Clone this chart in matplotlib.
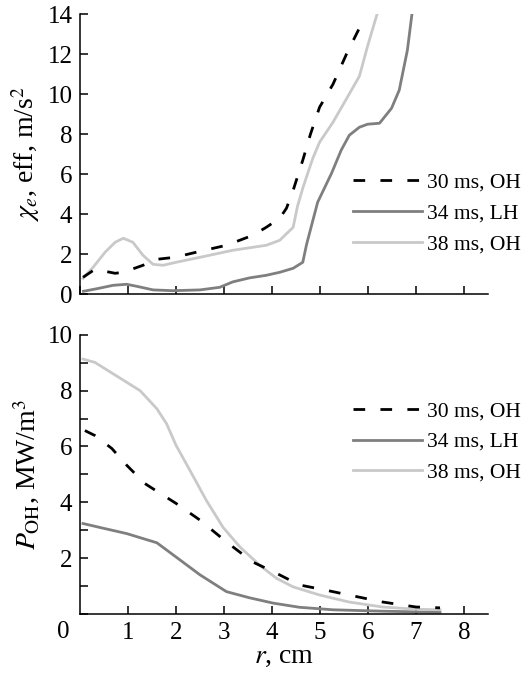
import matplotlib
matplotlib.use("Agg")
import matplotlib.pyplot as plt
from matplotlib.ticker import MultipleLocator

# === Profiles: chi_e,eff (m/s^2) vs r (cm) ===
r_chi_30 = [0.06, 0.31, 0.73, 0.9, 1.31, 1.6, 1.98, 2.5, 3.05, 3.6, 3.88, 4.16, 4.3,
            4.44, 4.64, 4.8, 4.99, 5.27, 5.55, 5.86, 5.95]
chi_30 = [0.85, 1.25, 1.05, 1.1, 1.45, 1.75, 1.85, 2.15, 2.45, 2.95, 3.35, 3.8, 4.3,
          5.2, 6.7, 8.0, 9.35, 10.5, 12.0, 13.5, 13.9]

r_chi_34 = [0.07, 0.35, 0.69, 0.97, 1.18, 1.52, 1.94, 2.5, 2.91, 3.18, 3.53, 3.88, 4.16,
            4.44, 4.64, 4.72, 4.95, 5.24, 5.44, 5.61, 5.82, 5.99, 6.24, 6.49, 6.65, 6.82, 6.92]
chi_34 = [0.15, 0.28, 0.45, 0.5, 0.4, 0.22, 0.18, 0.22, 0.35, 0.62, 0.82, 0.95, 1.1,
          1.3, 1.6, 2.5, 4.6, 6.05, 7.2, 7.95, 8.35, 8.5, 8.55, 9.3, 10.2, 12.2, 14.1]

r_chi_38 = [0.06, 0.27, 0.52, 0.73, 0.9, 1.1, 1.31, 1.52, 1.73, 2.0, 2.5, 3.18, 3.88,
            4.16, 4.44, 4.53, 4.64, 4.75, 4.85, 4.99, 5.27, 5.57, 5.82, 5.99, 6.2]
chi_38 = [0.8, 1.35, 2.1, 2.6, 2.8, 2.6, 1.95, 1.5, 1.45, 1.6, 1.85, 2.2, 2.45,
          2.7, 3.35, 4.4, 5.3, 6.1, 6.8, 7.6, 8.6, 9.85, 10.9, 12.4, 14.1]

# === Profiles: P_OH (MW/m^3) vs r (cm) ===
r_p_30 = [0.1, 0.31, 0.66, 0.97, 1.35, 2.0, 2.5, 3.05, 3.6, 4.09, 4.57, 5.13, 5.6, 6.3, 7.0, 7.5]
p_30 = [6.57, 6.39, 5.93, 5.33, 4.67, 3.96, 3.36, 2.58, 1.86, 1.46, 1.04, 0.85, 0.68, 0.43, 0.25, 0.22]

r_p_34 = [0.06, 0.41, 0.97, 1.6, 2.0, 2.5, 3.05, 3.53, 4.02, 4.57, 5.27, 6.3, 7.5]
p_34 = [3.24, 3.1, 2.88, 2.55, 2.04, 1.4, 0.8, 0.58, 0.39, 0.24, 0.15, 0.1, 0.06]

r_p_38 = [0.06, 0.31, 0.97, 1.25, 1.6, 1.8, 2.0, 2.29, 2.63, 2.98, 3.33, 3.74, 4.09,
          4.44, 4.99, 5.6, 6.3, 7.0, 7.5]
p_38 = [9.13, 9.01, 8.3, 8.0, 7.35, 6.82, 6.04, 5.14, 4.07, 3.1, 2.4, 1.75, 1.28,
        0.97, 0.68, 0.43, 0.25, 0.17, 0.15]

labels = ["30 ms, OH", "34 ms, LH", "38 ms, OH"]

plt.rcParams["font.family"] = "serif"
plt.rcParams["font.serif"] = ["Liberation Serif", "DejaVu Serif"]
plt.rcParams["mathtext.fontset"] = "stix"

TICK_FS = 18
LABEL_FS = 20
LEG_FS = 15.5
LW = 2.0
DARK = "#7f7f7f"
LIGHT = "#c9c9c9"
DASHES = (4.2, 5.5)


def style_axes(ax):
    for side in ("top", "right"):
        ax.spines[side].set_visible(False)
    for side in ("left", "bottom"):
        ax.spines[side].set_linewidth(1.1)
    ax.tick_params(direction="in", length=6, width=1.1, labelsize=TICK_FS, pad=5.5, which="both")
    ax.set_xlim(0, 8.5)
    ax.xaxis.set_major_locator(MultipleLocator(1))


def add_legend(ax, y_mid):
    # legend entries in time order: 30, 34, 38 ms
    h, l = ax.get_legend_handles_labels()
    order = [2, 0, 1]
    ax.legend([h[i] for i in order], [l[i] for i in order], loc="center left",
              bbox_to_anchor=(0.669, y_mid), frameon=False, fontsize=LEG_FS,
              handlelength=3.2, handletextpad=0.23, labelspacing=0.5,
              borderpad=0, borderaxespad=0)


fig = plt.figure(figsize=(5.27, 6.75), dpi=100)
ax1 = fig.add_axes([0.152, 0.564, 0.774, 0.415])
ax2 = fig.add_axes([0.152, 0.0904, 0.774, 0.4136])

# top panel: effective heat diffusivity
ax1.plot(r_chi_34, chi_34, color=DARK, lw=LW, label=labels[1], zorder=2)
ax1.plot(r_chi_38, chi_38, color=LIGHT, lw=LW, label=labels[2], zorder=2)
ax1.plot(r_chi_30, chi_30, color="black", lw=LW, dashes=DASHES, label=labels[0], zorder=3)
style_axes(ax1)
ax1.set_ylim(0, 14)
ax1.yaxis.set_major_locator(MultipleLocator(2))
ax1.set_xticklabels([])
ax1.set_ylabel(r"$\chi_{e}$, eff, m/s$^2$", fontsize=LABEL_FS, labelpad=4)
add_legend(ax1, 0.289)

# bottom panel: ohmic heating power density
ax2.plot(r_p_34, p_34, color=DARK, lw=LW, label=labels[1], zorder=2)
ax2.plot(r_p_38, p_38, color=LIGHT, lw=LW, label=labels[2], zorder=2)
ax2.plot(r_p_30, p_30, color="black", lw=LW, dashes=DASHES, label=labels[0], zorder=3)
style_axes(ax2)
ax2.set_ylim(0, 10)
ax2.set_yticks([2, 4, 6, 8, 10])
ax2.yaxis.set_minor_locator(MultipleLocator(1))
ax2.set_xticks(range(1, 9))
ax2.set_xlabel(r"$r$, cm", fontsize=LABEL_FS, labelpad=0)
ax2.set_ylabel(r"$P_{\rm OH}$, MW/m$^3$", fontsize=LABEL_FS, labelpad=4)
add_legend(ax2, 0.616)
ax2.annotate("0", xy=(0, 0), xycoords="data", xytext=(-12, -13), textcoords="offset points",
             ha="center", va="center", fontsize=TICK_FS)

fig.savefig("out.png", dpi=100)
